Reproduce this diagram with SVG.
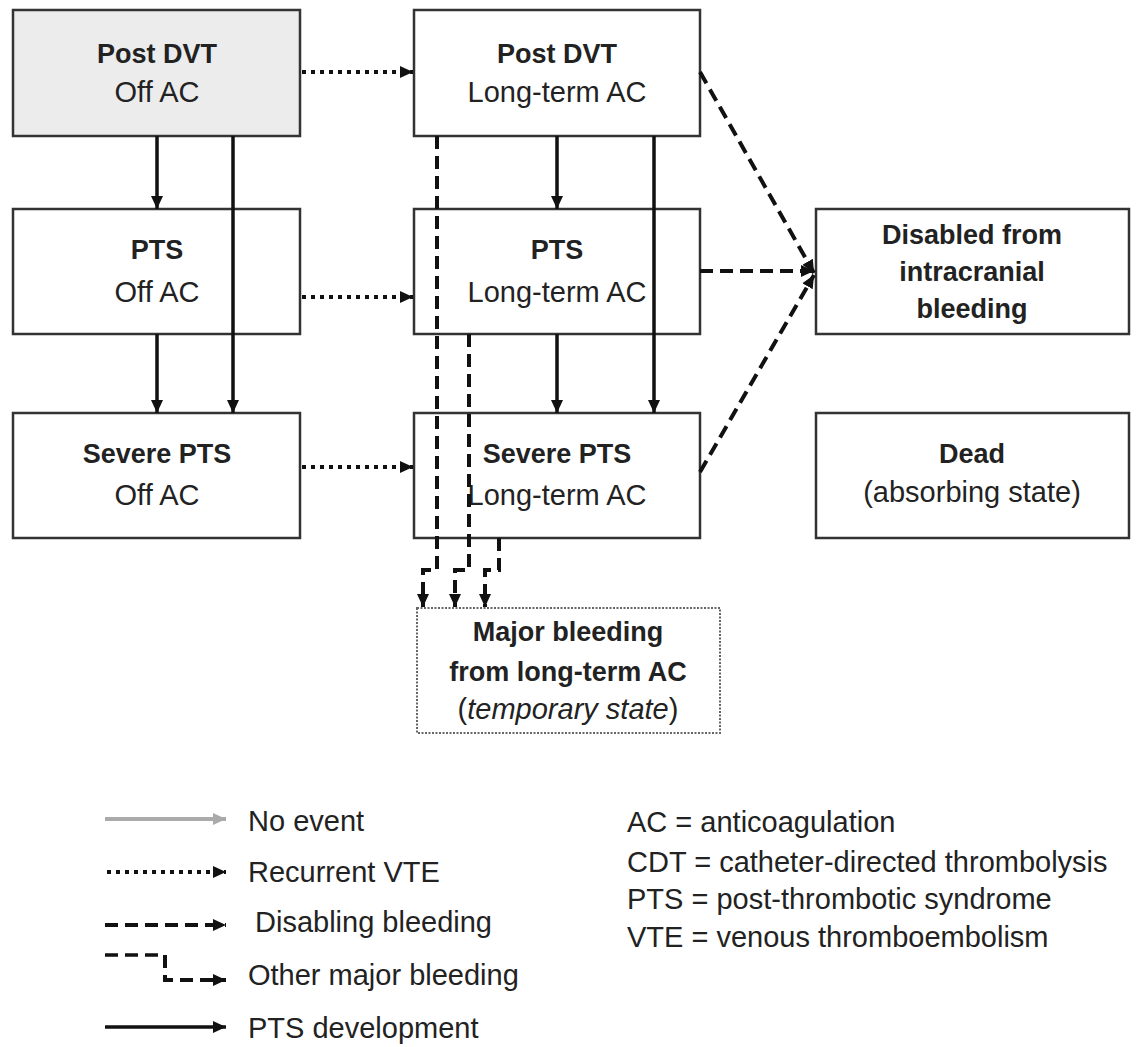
<svg xmlns="http://www.w3.org/2000/svg" width="1141" height="1047" viewBox="0 0 1141 1047">
<defs>
<marker id="ah" markerUnits="userSpaceOnUse" markerWidth="14" markerHeight="14" refX="13" refY="7" orient="auto"><path d="M0,1 L13,7 L0,13 z" fill="#111"/></marker>
<marker id="ahg" markerUnits="userSpaceOnUse" markerWidth="14" markerHeight="14" refX="13" refY="7" orient="auto"><path d="M0,1 L13,7 L0,13 z" fill="#aaa"/></marker>
<style>
.box{fill:#fff;stroke:#333;stroke-width:2.5}
.grey{fill:#ececec}
.tmp{fill:#fff;stroke:#666;stroke-width:2;stroke-dasharray:2 1.5}
text{font-family:"Liberation Sans",Arial,sans-serif;font-size:29px;fill:#222;text-anchor:middle}
.b{font-weight:bold;font-size:27px}
.lg{text-anchor:start;font-size:29px}
.solid{stroke:#111;stroke-width:3.5;fill:none;marker-end:url(#ah)}
.plain{stroke:#111;stroke-width:3.5;fill:none}
.dot{stroke:#111;stroke-width:4;fill:none;stroke-dasharray:4 5;marker-end:url(#ah)}
.dash{stroke:#111;stroke-width:4;fill:none;stroke-dasharray:13 7;marker-end:url(#ah)}
.grey-l{stroke:#aaa;stroke-width:4;fill:none;marker-end:url(#ahg)}
</style>
</defs>
<rect width="1141" height="1047" fill="#fff"/>

<g id="n-postdvt-off"><rect class="box grey" x="13" y="10" width="287" height="126"/><text class="b" x="157" y="63">Post DVT</text><text x="157" y="102">Off AC</text></g>
<g id="n-postdvt-lt"><rect class="box" x="414" y="10" width="286" height="126"/><text class="b" x="557" y="63">Post DVT</text><text x="557" y="102">Long-term AC</text></g>
<g id="n-pts-off"><rect class="box" x="13" y="209" width="287" height="125"/><text class="b" x="157" y="259">PTS</text><text x="157" y="302">Off AC</text></g>
<g id="n-pts-lt"><rect class="box" x="414" y="209" width="286" height="125"/><text class="b" x="557" y="259">PTS</text><text x="557" y="302">Long-term AC</text></g>
<g id="n-disabled"><rect class="box" x="816" y="209" width="313" height="125"/><text class="b" x="972" y="244">Disabled from</text><text class="b" x="972" y="281">intracranial</text><text class="b" x="972" y="318">bleeding</text></g>
<g id="n-sev-off"><rect class="box" x="13" y="413" width="287" height="125"/><text class="b" x="157" y="463">Severe PTS</text><text x="157" y="505">Off AC</text></g>
<g id="n-sev-lt"><rect class="box" x="414" y="413" width="286" height="125"/><text class="b" x="557" y="463">Severe PTS</text><text x="557" y="505">Long-term AC</text></g>
<g id="n-dead"><rect class="box" x="816" y="413" width="313" height="125"/><text class="b" x="972" y="463">Dead</text><text x="972" y="502">(absorbing state)</text></g>
<g id="n-major"><rect class="tmp" x="417" y="608" width="303" height="125"/><text class="b" x="568" y="641">Major bleeding</text><text class="b" x="568" y="681">from long-term AC</text><text x="568" y="719">(<tspan font-style="italic">temporary state</tspan>)</text></g>

<g id="connectors">
<path class="solid" d="M157,136 V209"/>
<path class="solid" d="M233,136 V413"/>
<path class="solid" d="M157,334 V413"/>
<path class="solid" d="M557,136 V209"/>
<path class="solid" d="M654,136 V413"/>
<path class="solid" d="M557,334 V413"/>
<path class="dot" d="M302,72 H413"/>
<path class="dot" d="M302,297 H413"/>
<path class="dot" d="M302,467 H413"/>
<path class="dash" d="M700,72 L814,273"/>
<path class="dash" d="M700,271 H814"/>
<path class="dash" d="M700,472 L814,275"/>
<path class="dash" d="M437,136 V570 H423 V607"/>
<path class="dash" d="M469,334 V570 H455 V607"/>
<path class="dash" d="M499,538 V570 H485 V607"/>
</g>

<g id="legend">
<path class="grey-l" d="M105,819 H226"/>
<path class="dot" d="M107,872 H226"/>
<path class="dash" d="M105,925 H226"/>
<path class="plain" d="M105,955 H163" stroke-dasharray="13 7"/>
<path class="dash" d="M165,955 V980 H226" stroke-dasharray="4 0 0 0 13 7"/>
<path class="solid" d="M105,1027 H226"/>
<text class="lg" x="248" y="831">No event</text>
<text class="lg" x="248" y="882">Recurrent VTE</text>
<text class="lg" x="255" y="932">Disabling bleeding</text>
<text class="lg" x="248" y="985">Other major bleeding</text>
<text class="lg" x="248" y="1038">PTS development</text>
<text class="lg" x="627" y="832">AC = anticoagulation</text>
<text class="lg" x="627" y="872">CDT = catheter-directed thrombolysis</text>
<text class="lg" x="627" y="909">PTS = post-thrombotic syndrome</text>
<text class="lg" x="627" y="947">VTE = venous thromboembolism</text>
</g>
</svg>
